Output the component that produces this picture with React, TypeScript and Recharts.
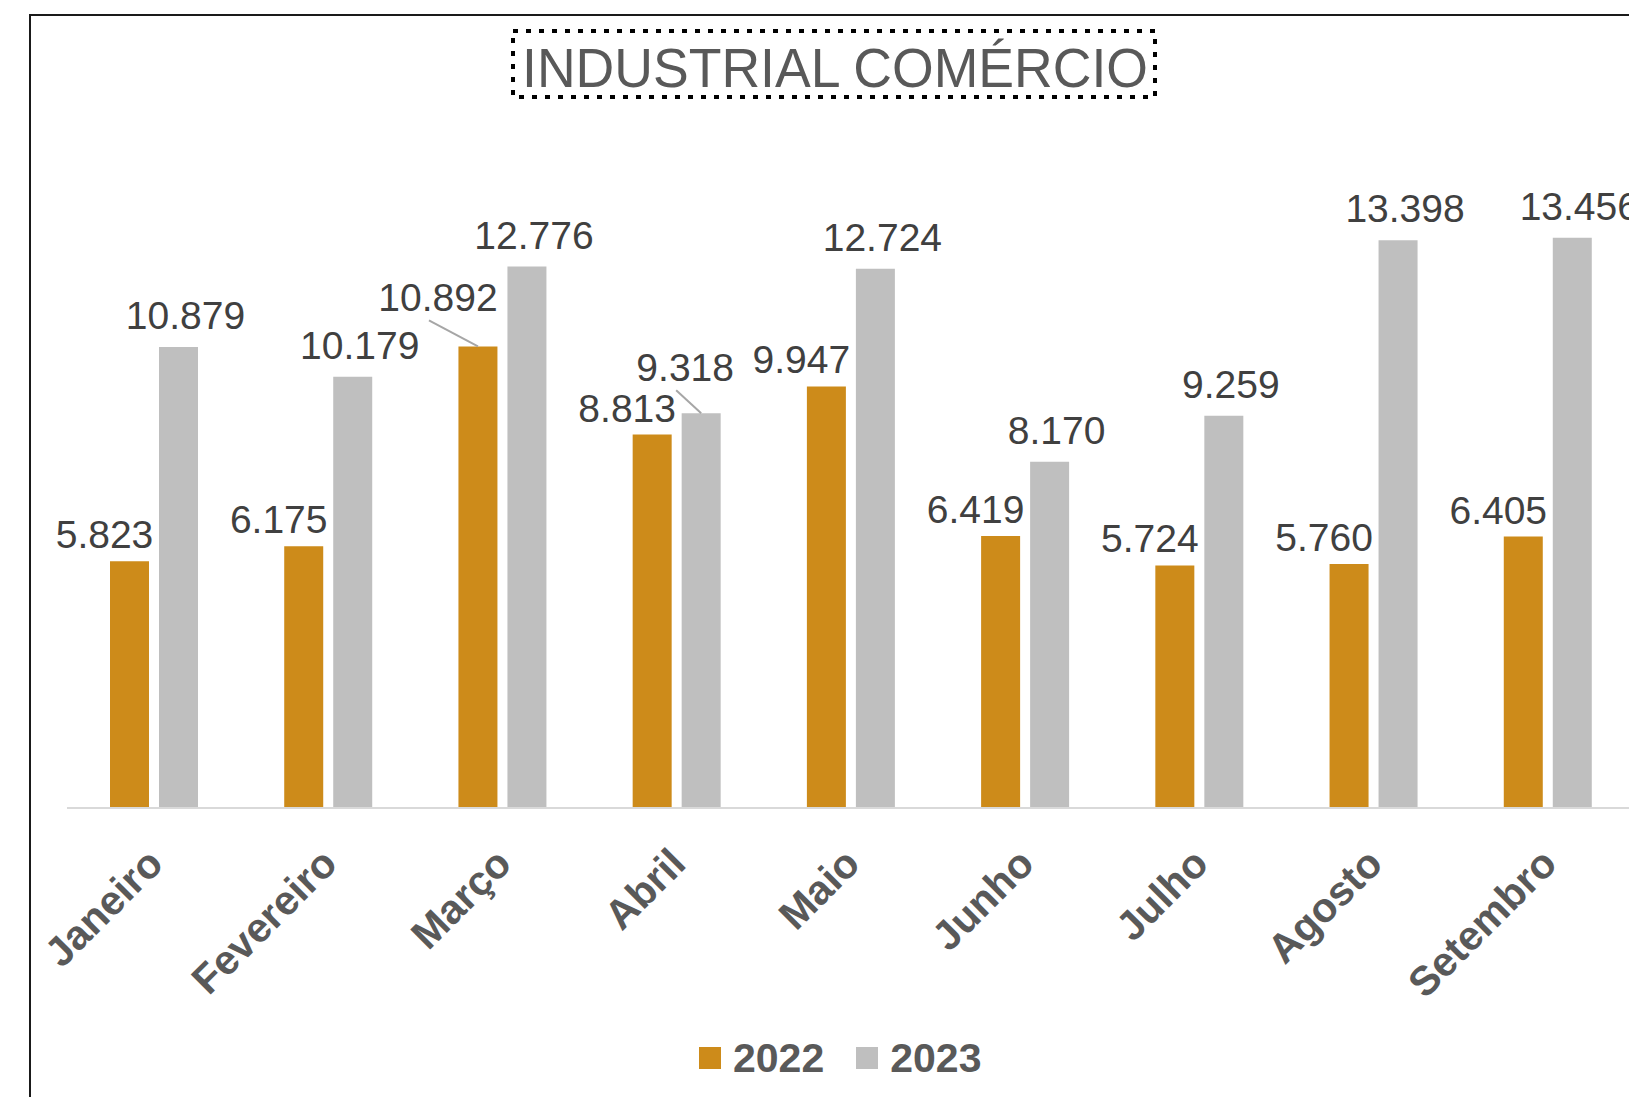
import { Bar, BarChart, LabelList, XAxis, YAxis } from "recharts";

const MONTHS = ["Janeiro", "Fevereiro", "Março", "Abril", "Maio", "Junho", "Julho", "Agosto", "Setembro"];
const VALUES_2022 = [5823, 6175, 10892, 8813, 9947, 6419, 5724, 5760, 6405];
const VALUES_2023 = [10879, 10179, 12776, 9318, 12724, 8170, 9259, 13398, 13456];

const SERIES = [
  { key: "y2022", name: "2022", color: "#CD8B1A" },
  { key: "y2023", name: "2023", color: "#BFBFBF" }
];

const data = MONTHS.map((month, i) => ({
  month,
  y2022: VALUES_2022[i],
  y2023: VALUES_2023[i]
}));

const FONT = "'Liberation Sans', Arial, sans-serif";
const WIDTH = 1640;
const HEIGHT = 1097;

// default label placement per series, plus the two labels Excel pulled away with a leader line
const LABEL_SHIFT: Record<string, { dx: number; gap: number }> = {
  y2022: { dx: -25, gap: 13 },
  y2023: { dx: 7, gap: 18 }
};
const LEADER_LABELS: Record<string, { dx: number; gap: number }> = {
  "y2022-Março": { dx: -40, gap: 35 },
  "y2023-Abril": { dx: -16, gap: 32 }
};

function fmt(v: number): string {
  return v.toLocaleString("pt-BR");
}

function makeLabel(seriesKey: string) {
  return (props: any) => {
    const vb = props.viewBox ?? {};
    const x = Number(props.x ?? vb.x);
    const y = Number(props.y ?? vb.y);
    const width = Number(props.width ?? vb.width);
    const idx = props.index as number;
    const month = MONTHS[idx];
    const special = LEADER_LABELS[`${seriesKey}-${month}`];
    const shift = special ?? LABEL_SHIFT[seriesKey];
    const barCx = x + width / 2;
    const tx = barCx + shift.dx;
    const baseline = y - shift.gap;
    return (
      <g>
        {special ? (
          <line x1={tx - 9} y1={baseline + 9} x2={barCx} y2={y} stroke="#A6A6A6" strokeWidth={2} />
        ) : null}
        <text
          x={tx}
          y={baseline}
          textAnchor="middle"
          fill="#404040"
          fontFamily={FONT}
          fontSize={39}
        >
          {fmt(Number(props.value))}
        </text>
      </g>
    );
  };
}

function MonthTick(props: any) {
  const { x, y, payload } = props;
  const ax = x + 11;
  const ay = y + 58;
  return (
    <text
      x={ax}
      y={ay}
      textAnchor="end"
      transform={`rotate(-45, ${ax}, ${ay})`}
      fill="#595959"
      fontFamily={FONT}
      fontWeight="bold"
      fontSize={41}
    >
      {payload.value}
    </text>
  );
}

export default function App() {
  return (
    <div
      style={{
        position: "absolute",
        left: 0,
        top: 0,
        width: 1629,
        height: 1097,
        overflow: "hidden",
        background: "#fff"
      }}
    >
      <div style={{ position: "absolute", left: 0, top: 0 }}>
        <BarChart
          width={WIDTH}
          height={HEIGHT}
          data={data}
          margin={{ top: 130, left: 67, right: WIDTH - 1635, bottom: 259 }}
          barSize={39}
          barGap={10}
        >
          <XAxis
            dataKey="month"
            height={30}
            axisLine={{ stroke: "#D9D9D9", strokeWidth: 2 }}
            tickLine={false}
            tickSize={0}
            tickMargin={0}
            interval={0}
            tick={<MonthTick />}
          />
          <YAxis hide domain={[0, 16000]} />
          {SERIES.map((s) => (
            <Bar key={s.key} dataKey={s.key} name={s.name} fill={s.color} isAnimationActive={false}>
              <LabelList dataKey={s.key} content={makeLabel(s.key)} />
            </Bar>
          ))}
        </BarChart>
      </div>

      <svg
        width={1629}
        height={1097}
        style={{ position: "absolute", left: 0, top: 0, pointerEvents: "none" }}
      >
        <rect x={30} y={15} width={1700} height={1200} fill="none" stroke="#1A1A1A" strokeWidth={2} />
        <rect
          x={513}
          y={31}
          width={642}
          height={66}
          fill="none"
          stroke="#000"
          strokeWidth={4}
          strokeDasharray="5 8"
        />
        <text
          x={522}
          y={87}
          fontFamily={FONT}
          fontSize={56}
          fill="#595959"
          textLength={626}
          lengthAdjust="spacingAndGlyphs"
        >
          INDUSTRIAL COMÉRCIO
        </text>
      </svg>

      <div
        style={{
          position: "absolute",
          left: 699,
          top: 1036,
          display: "flex",
          alignItems: "center",
          fontFamily: FONT,
          fontWeight: "bold",
          fontSize: 41,
          color: "#595959",
          lineHeight: "44px"
        }}
      >
        {SERIES.map((s, i) => (
          <div key={s.key} style={{ display: "flex", alignItems: "center", marginLeft: i ? 32 : 0 }}>
            <span style={{ width: 22, height: 22, background: s.color, display: "inline-block", marginRight: 12 }} />
            <span>{s.name}</span>
          </div>
        ))}
      </div>
    </div>
  );
}
